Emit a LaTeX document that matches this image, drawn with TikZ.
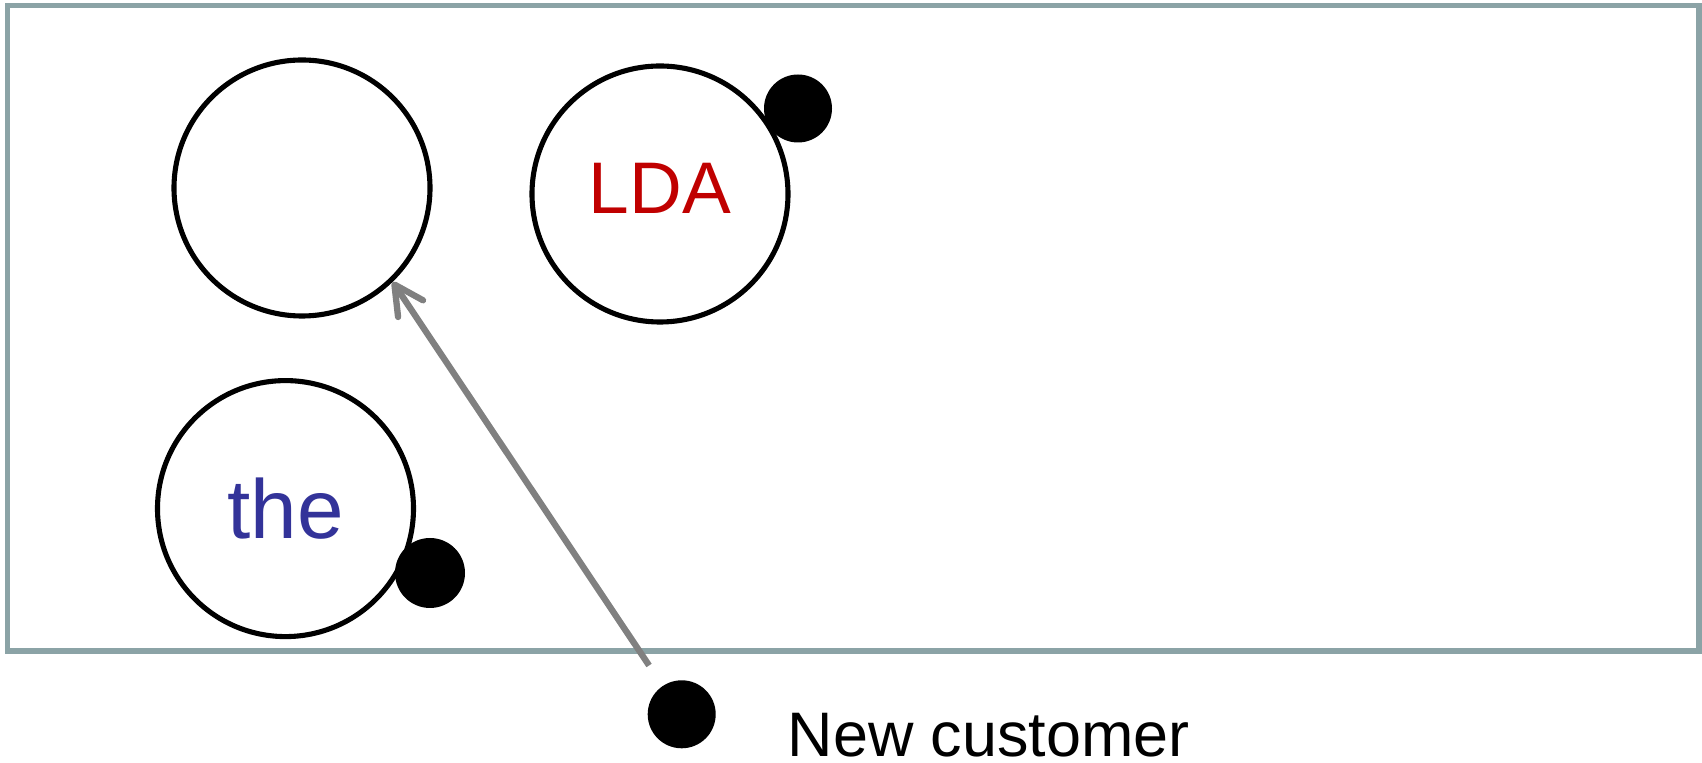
\documentclass[tikz,border=0pt]{standalone}
\usepackage{fontspec}
\setmainfont{Liberation Sans}
\usepackage{tikz}
\usetikzlibrary{positioning, arrows.meta}
\usepackage{xcolor}

\definecolor{framegray}{RGB}{139,163,166}
\definecolor{ldared}{RGB}{192,0,0}
\definecolor{theblue}{RGB}{51,51,153}

\begin{document}
\begin{tikzpicture}[
    table/.style={circle, draw=black, line width=1.45pt, fill=white,
        minimum size=2.56cm, inner sep=0pt},
    customer/.style={circle, fill=black, inner sep=0pt},
    seatarrow/.style={draw=gray, line width=1.8pt,
        -{Straight Barb[round, length=2.9mm, width=3.0mm]}}
]
    \useasboundingbox (0,0) rectangle (17.02,-7.63);

    % the restaurant
    \draw[framegray, line width=1.45pt] (0.076,-0.054) rectangle (16.99,-6.51);

    % three tables, two of them already taken
    \node[table] (t1) at (3.02,-1.88) {};
    \node[table, text=ldared, text depth=1.2mm, font=\fontsize{20.8}{24}\selectfont] (t2) at (6.60,-1.94) {LDA};
    \node[table, text=theblue, font=\fontsize{23.8}{28}\selectfont] (t3) at (2.855,-5.086) {the};

    \node[customer, minimum size=0.68cm] (c2) at (7.98,-1.085) {};
    \node[customer, minimum size=0.70cm] (c3) at (4.30,-5.73) {};

    % the newcomer, walking to the empty table
    \node[customer, minimum size=0.68cm] (cnew) at (6.817,-7.143) {};
    \node[anchor=base west, inner sep=0pt, font=\fontsize{17.9}{21}\selectfont]
        (newlabel) at (7.87,-7.565) {New customer};

    \draw[seatarrow, shorten <=0.24cm] (cnew) -- (t1.-46);
\end{tikzpicture}
\end{document}
